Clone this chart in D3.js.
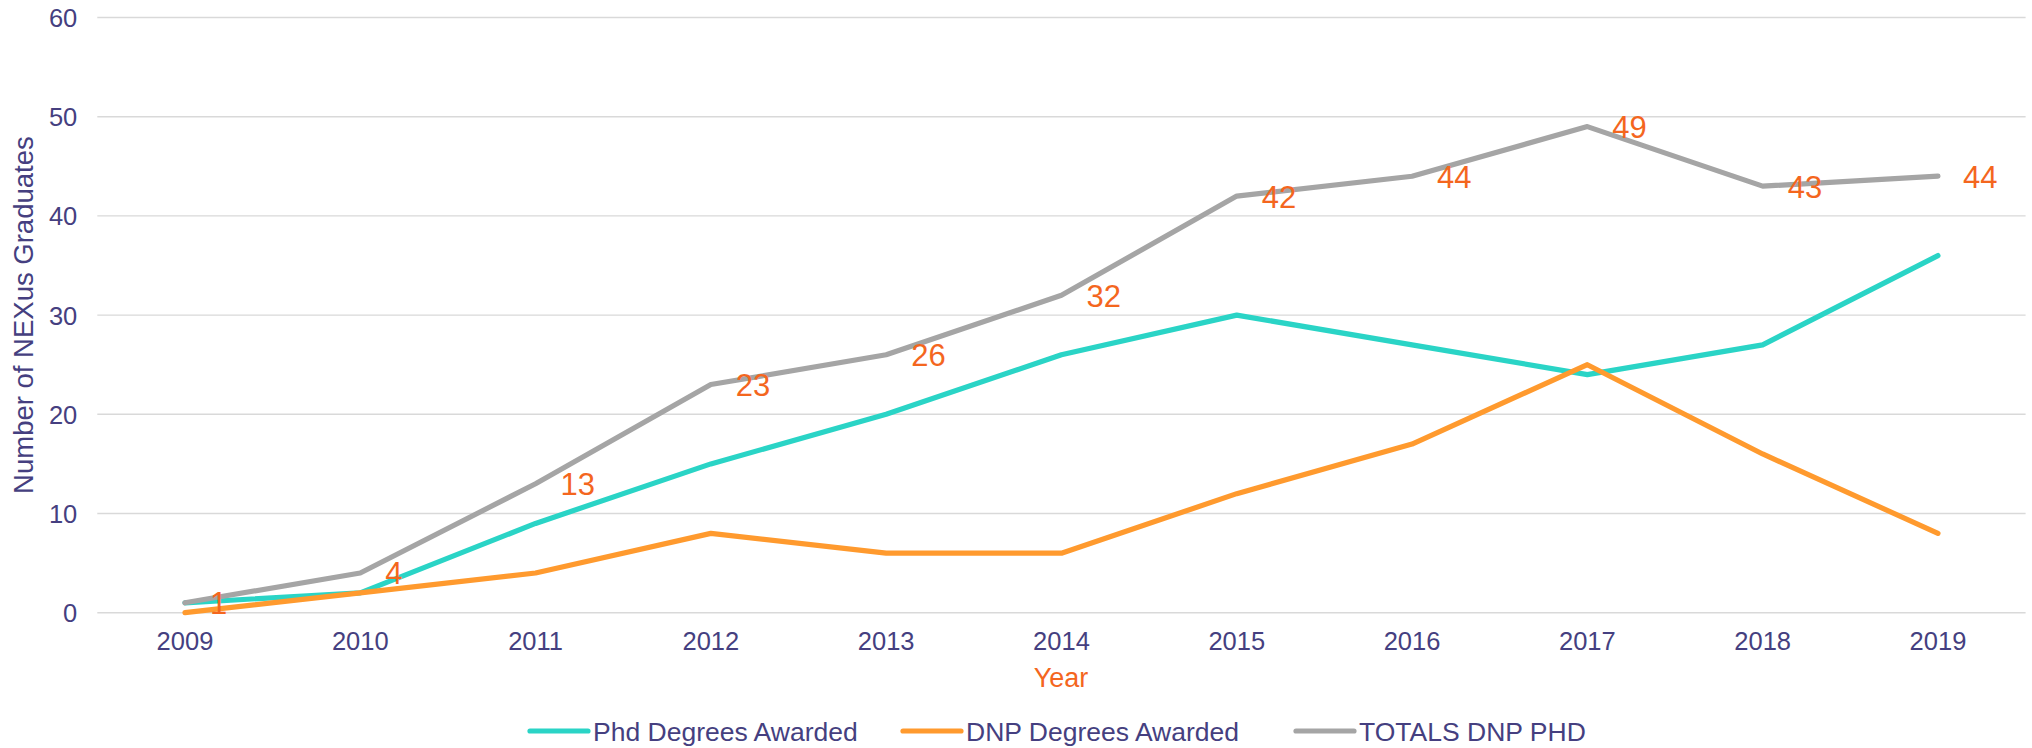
<!DOCTYPE html>
<html>
<head>
<meta charset="utf-8">
<script src="https://cdn.jsdelivr.net/npm/d3@7"></script>
<style>
  html, body { margin: 0; padding: 0; background: #fff; }
  svg { display: block; font-family: "Liberation Sans", Arial, sans-serif; }
</style>
</head>
<body>
<svg id="chart" width="2032" height="748"></svg>
<script>
const years = ["2009","2010","2011","2012","2013","2014","2015","2016","2017","2018","2019"];
const phdValues = [1, 2, 9, 15, 20, 26, 30, 27, 24, 27, 36];
const dnpValues = [0, 2, 4, 8, 6, 6, 12, 17, 25, 16, 8];
const totalValues = [1, 4, 13, 23, 26, 32, 42, 44, 49, 43, 44];
const yTicks = [0, 10, 20, 30, 40, 50, 60];
const seriesNames = ["Phd Degrees Awarded", "DNP Degrees Awarded", "TOTALS DNP PHD"];

const textColor = "#453F80";
const labelColor = "#F4661E";
const colors = ["#2AD4C6", "#FF9A2E", "#A5A5A5"];

const svg = d3.select("#chart");
const margin = { left: 97.3, right: 6.4, top: 17.5, bottom: 135.3 };
const W = 2032, H = 748;
const x0 = margin.left, x1 = W - margin.right;
const y0 = H - margin.bottom, y1 = margin.top;

const xBand = d3.scaleBand().domain(years).range([x0, x1]).padding(0);
const xPos = d => xBand(d) + xBand.bandwidth() / 2;
const y = d3.scaleLinear().domain([0, 60]).range([y0, y1]);

// gridlines
svg.append("g").selectAll("line").data(yTicks).join("line")
  .attr("x1", x0).attr("x2", x1)
  .attr("y1", d => y(d)).attr("y2", d => y(d))
  .attr("stroke", "#D9D9D9").attr("stroke-width", 1.4);

// y axis labels
const yAxis = d3.axisLeft(y).tickValues(yTicks).tickSize(0).tickPadding(0);
const gy = svg.append("g").attr("transform", `translate(${x0 - 20},0)`).call(yAxis);
gy.select(".domain").remove();
gy.selectAll("text").attr("fill", textColor).style("font-size", "25.5px")
  .style("font-family", "'Liberation Sans', Arial, sans-serif").attr("dy", "0.35em");

// x axis labels
const xAxis = d3.axisBottom(xBand).tickSize(0).tickPadding(0);
const gx = svg.append("g").attr("transform", `translate(0,${y0 + 37})`).call(xAxis);
gx.select(".domain").remove();
gx.selectAll("text").attr("fill", textColor).style("font-size", "25.5px")
  .style("font-family", "'Liberation Sans', Arial, sans-serif").attr("dy", "0");

// axis titles
svg.append("text")
  .attr("transform", `translate(33,${(y0 + y1) / 2}) rotate(-90)`)
  .attr("text-anchor", "middle")
  .attr("fill", textColor).style("font-size", "27.5px")
  .text("Number of NEXus Graduates");

svg.append("text")
  .attr("x", 1061).attr("y", 687)
  .attr("text-anchor", "middle")
  .attr("fill", labelColor).style("font-size", "27px")
  .text("Year");

// lines
const allSeries = [phdValues, dnpValues, totalValues];
const line = d3.line().x((d, i) => xPos(years[i])).y(d => y(d));
svg.append("g").selectAll("path").data(allSeries).join("path")
  .attr("d", d => line(d))
  .attr("fill", "none")
  .attr("stroke", (d, i) => colors[i])
  .attr("stroke-width", 5.2)
  .attr("stroke-linejoin", "round")
  .attr("stroke-linecap", "round");

// data labels for totals
svg.append("g").selectAll("text").data(totalValues).join("text")
  .attr("x", (d, i) => xPos(years[i]) + 25)
  .attr("y", d => y(d))
  .attr("dy", "0.37em")
  .attr("fill", labelColor)
  .style("font-size", "31px")
  .text(d => d);

// legend
const legendX = [530, 903, 1296];
const legendY = 731;
const lg = svg.append("g");
seriesNames.forEach((name, i) => {
  lg.append("line")
    .attr("x1", legendX[i]).attr("x2", legendX[i] + 58)
    .attr("y1", legendY).attr("y2", legendY)
    .attr("stroke", colors[i]).attr("stroke-width", 5.2)
    .attr("stroke-linecap", "round");
  lg.append("text")
    .attr("x", legendX[i] + 63).attr("y", legendY + 9.5)
    .attr("fill", textColor).style("font-size", "26.5px")
    .text(name);
});
</script>
</body>
</html>
